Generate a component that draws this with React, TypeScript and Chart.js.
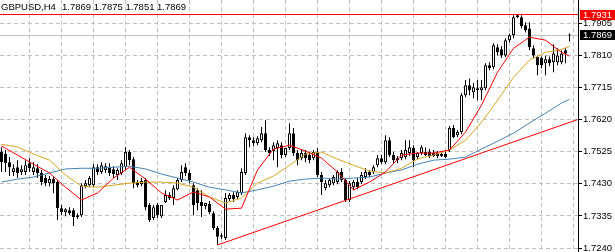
import React, { useEffect, useRef } from "react";
import { Chart, registerables } from "chart.js";

Chart.register(...registerables);

const SYMBOL = "GBPUSD,H4";
const LAST_BAR = [1.7869, 1.7875, 1.7851, 1.7869];

const OPENS = [
  1.7524, 1.7518, 1.7494, 1.7465, 1.7479, 1.7465, 1.7465, 1.7491, 1.7465, 1.7476,
  1.7462, 1.7447, 1.7432, 1.7444, 1.7435, 1.7358, 1.7346, 1.7352, 1.7352, 1.7332,
  1.7337, 1.7423, 1.7426, 1.7426, 1.7479, 1.7465, 1.7471, 1.7479, 1.7473, 1.7456,
  1.7462, 1.7479, 1.7524, 1.7503, 1.7435, 1.7429, 1.7441, 1.7367, 1.7329, 1.7367,
  1.7334, 1.7376, 1.7397, 1.7388, 1.7414, 1.7441, 1.7479, 1.7462, 1.7426, 1.7411,
  1.7376, 1.7364, 1.7370, 1.7343, 1.7299, 1.7273, 1.7270, 1.7385, 1.7397, 1.7391,
  1.7402, 1.7462, 1.7568, 1.7559, 1.7550, 1.7559, 1.7580, 1.7530, 1.7527, 1.7536,
  1.7544, 1.7515, 1.7536, 1.7580, 1.7521, 1.7506, 1.7521, 1.7515, 1.7506, 1.7524,
  1.7456, 1.7417, 1.7426, 1.7432, 1.7435, 1.7465, 1.7441, 1.7382, 1.7420, 1.7435,
  1.7435, 1.7450, 1.7465, 1.7465, 1.7485, 1.7506, 1.7494, 1.7559, 1.7515, 1.7506,
  1.7506, 1.7509, 1.7521, 1.7536, 1.7509, 1.7521, 1.7524, 1.7524, 1.7521, 1.7521,
  1.7518, 1.7518, 1.7530, 1.7595, 1.7574, 1.7583, 1.7692, 1.7722, 1.7701, 1.7713,
  1.7707, 1.7713, 1.7781, 1.7775, 1.7834, 1.7828, 1.7810, 1.7855, 1.7870, 1.7923,
  1.7923, 1.7899, 1.7890, 1.7831, 1.7805, 1.7802, 1.7787, 1.7799, 1.7790, 1.7790,
  1.7790, 1.7825, 1.7869,
];

const HIGHS = [
  1.7538, 1.7530, 1.7509, 1.7488, 1.7500, 1.7485, 1.7500, 1.7506, 1.7494, 1.7488,
  1.7471, 1.7456, 1.7453, 1.7453, 1.7441, 1.7367, 1.7358, 1.7361, 1.7358, 1.7343,
  1.7432, 1.7441, 1.7453, 1.7488, 1.7488, 1.7494, 1.7491, 1.7491, 1.7482, 1.7476,
  1.7500, 1.7538, 1.7530, 1.7509, 1.7441, 1.7447, 1.7447, 1.7373, 1.7367, 1.7373,
  1.7367, 1.7411, 1.7405, 1.7426, 1.7447, 1.7485, 1.7491, 1.7471, 1.7432, 1.7417,
  1.7411, 1.7373, 1.7379, 1.7349, 1.7305, 1.7284, 1.7403, 1.7403, 1.7405, 1.7411,
  1.7476, 1.7580, 1.7574, 1.7568, 1.7571, 1.7598, 1.7618, 1.7538, 1.7553, 1.7559,
  1.7553, 1.7536, 1.7609, 1.7595, 1.7530, 1.7530, 1.7530, 1.7524, 1.7530, 1.7536,
  1.7465, 1.7441, 1.7447, 1.7456, 1.7470, 1.7476, 1.7447, 1.7438, 1.7441, 1.7447,
  1.7465, 1.7476, 1.7470, 1.7485, 1.7515, 1.7515, 1.7574, 1.7568, 1.7524, 1.7512,
  1.7530, 1.7559, 1.7559, 1.7544, 1.7524, 1.7544, 1.7538, 1.7533, 1.7530, 1.7527,
  1.7524, 1.7527, 1.7601, 1.7604, 1.7589, 1.7698, 1.7737, 1.7742, 1.7728, 1.7737,
  1.7737, 1.7787, 1.7790, 1.7846, 1.7843, 1.7837, 1.7861, 1.7875, 1.7929, 1.7931,
  1.7929, 1.7908, 1.7908, 1.7840, 1.7810, 1.7807, 1.7810, 1.7807, 1.7843, 1.7831,
  1.7825, 1.7831, 1.7875,
];

const LOWS = [
  1.7465, 1.7465, 1.7453, 1.7453, 1.7447, 1.7456, 1.7456, 1.7465, 1.7456, 1.7447,
  1.7426, 1.7423, 1.7423, 1.7402, 1.7323, 1.7337, 1.7334, 1.7337, 1.7305, 1.7326,
  1.7332, 1.7417, 1.7420, 1.7420, 1.7456, 1.7459, 1.7462, 1.7453, 1.7447, 1.7441,
  1.7456, 1.7471, 1.7485, 1.7417, 1.7420, 1.7423, 1.7352, 1.7317, 1.7323, 1.7329,
  1.7329, 1.7373, 1.7382, 1.7367, 1.7411, 1.7435, 1.7453, 1.7432, 1.7337, 1.7352,
  1.7332, 1.7355, 1.7340, 1.7293, 1.7249, 1.7267, 1.7264, 1.7379, 1.7376, 1.7385,
  1.7397, 1.7456, 1.7538, 1.7541, 1.7544, 1.7553, 1.7524, 1.7512, 1.7500, 1.7479,
  1.7506, 1.7509, 1.7530, 1.7512, 1.7485, 1.7500, 1.7494, 1.7491, 1.7500, 1.7450,
  1.7397, 1.7411, 1.7420, 1.7426, 1.7429, 1.7435, 1.7376, 1.7376, 1.7411, 1.7414,
  1.7429, 1.7444, 1.7450, 1.7459, 1.7479, 1.7488, 1.7488, 1.7509, 1.7491, 1.7491,
  1.7500, 1.7503, 1.7512, 1.7479, 1.7503, 1.7515, 1.7512, 1.7506, 1.7509, 1.7506,
  1.7509, 1.7506, 1.7524, 1.7565, 1.7568, 1.7577, 1.7686, 1.7692, 1.7683, 1.7677,
  1.7677, 1.7707, 1.7766, 1.7769, 1.7810, 1.7802, 1.7805, 1.7849, 1.7861, 1.7920,
  1.7890, 1.7878, 1.7825, 1.7802, 1.7751, 1.7772, 1.7751, 1.7778, 1.7760, 1.7781,
  1.7784, 1.7787, 1.7851,
];

const CLOSES = [
  1.7494, 1.7491, 1.7479, 1.7476, 1.7462, 1.7473, 1.7485, 1.7476, 1.7479, 1.7462,
  1.7435, 1.7432, 1.7444, 1.7432, 1.7358, 1.7346, 1.7355, 1.7343, 1.7332, 1.7337,
  1.7426, 1.7432, 1.7447, 1.7479, 1.7465, 1.7485, 1.7482, 1.7462, 1.7459, 1.7471,
  1.7491, 1.7524, 1.7500, 1.7432, 1.7426, 1.7438, 1.7361, 1.7323, 1.7361, 1.7337,
  1.7367, 1.7397, 1.7388, 1.7417, 1.7441, 1.7465, 1.7462, 1.7441, 1.7367, 1.7373,
  1.7364, 1.7373, 1.7346, 1.7299, 1.7273, 1.7278, 1.7388, 1.7397, 1.7385, 1.7406,
  1.7465, 1.7568, 1.7559, 1.7550, 1.7565, 1.7580, 1.7530, 1.7521, 1.7544, 1.7550,
  1.7515, 1.7536, 1.7580, 1.7521, 1.7500, 1.7521, 1.7506, 1.7500, 1.7524, 1.7456,
  1.7435, 1.7432, 1.7441, 1.7450, 1.7465, 1.7441, 1.7382, 1.7432, 1.7435, 1.7420,
  1.7456, 1.7465, 1.7456, 1.7479, 1.7506, 1.7494, 1.7559, 1.7515, 1.7500, 1.7500,
  1.7521, 1.7530, 1.7538, 1.7500, 1.7521, 1.7538, 1.7515, 1.7512, 1.7512, 1.7512,
  1.7512, 1.7509, 1.7595, 1.7568, 1.7583, 1.7692, 1.7722, 1.7707, 1.7716, 1.7707,
  1.7716, 1.7781, 1.7772, 1.7840, 1.7819, 1.7810, 1.7855, 1.7870, 1.7923, 1.7929,
  1.7896, 1.7884, 1.7834, 1.7810, 1.7781, 1.7781, 1.7799, 1.7787, 1.7816, 1.7810,
  1.7816, 1.7816, 1.7869,
];

// moving averages read at every 4th bar
const MA_INDEX = [
  0, 4, 8, 12, 16, 20, 24, 28, 32, 36, 40, 44, 48, 52, 56, 60, 64, 68, 72,
  76, 80, 84, 88, 92, 96, 100, 104, 108, 112, 116, 120, 124, 128, 132, 136, 140, 142,
];
const MA_FAST = [
  1.7542, 1.7515, 1.7488, 1.7462, 1.7420, 1.7382, 1.7403, 1.7447, 1.7479, 1.7444,
  1.7403, 1.7382, 1.7406, 1.7391, 1.7355, 1.7358, 1.7471, 1.7533, 1.7544, 1.7527,
  1.7506, 1.7465, 1.7412, 1.7435, 1.7465, 1.7515, 1.7521, 1.7521, 1.7530, 1.7583,
  1.7663, 1.7760, 1.7831, 1.7864, 1.7855, 1.7819, 1.7808,
];
const MA_MID = [
  1.7547, 1.7539, 1.7518, 1.7500, 1.7456, 1.7423, 1.7420, 1.7426, 1.7432, 1.7435,
  1.7435, 1.7432, 1.7420, 1.7391, 1.7373, 1.7388, 1.7432, 1.7453, 1.7485, 1.7518,
  1.7524, 1.7503, 1.7485, 1.7468, 1.7462, 1.7476, 1.7503, 1.7515, 1.7530, 1.7559,
  1.7612, 1.7677, 1.7745, 1.7796, 1.7819, 1.7828, 1.7837,
];
const MA_SLOW = [
  1.7435, 1.7444, 1.7450, 1.7462, 1.7474, 1.7476, 1.7476, 1.7479, 1.7482, 1.7474,
  1.7459, 1.7447, 1.7435, 1.7420, 1.7412, 1.7403, 1.7412, 1.7423, 1.7438, 1.7444,
  1.7447, 1.7444, 1.7447, 1.7450, 1.7462, 1.7471, 1.7488, 1.7500, 1.7503, 1.7509,
  1.7533, 1.7556, 1.7580, 1.7610, 1.7639, 1.7669, 1.7680,
];

const TREND_X = [54, 144];
const TREND_Y = [1.7249, 1.7620];

const HIGH_LEVEL = 1.7931;
const BID_LEVEL = 1.7869;

const Y_TICKS = [1.724, 1.7335, 1.743, 1.7525, 1.762, 1.7715, 1.781, 1.7905];
const X_GRID = [7, 15, 23, 31, 39, 47, 55, 63, 71, 79, 87, 95, 103, 111, 119, 127, 135, 143];

const X_MIN = -0.375;
const X_MAX = 144.125;
const Y_MIN = 1.72282;
const Y_MAX = 1.7974;

const FONT = '"Liberation Sans", Arial, sans-serif';

export default function App() {
  const ref = useRef<HTMLCanvasElement | null>(null);

  useEffect(() => {
    document.body.style.margin = "0";
    const canvas = ref.current;
    if (!canvas) return;

    const idx = OPENS.map((_, i) => i);
    const bodies = idx.map((i) => ({ x: i, y: [OPENS[i], CLOSES[i]] }));
    const wicks = idx.map((i) => ({ x: i, y: [LOWS[i], HIGHS[i]] }));
    const bodyFill = idx.map((i) => (CLOSES[i] >= OPENS[i] ? "#ffffff" : "#000000"));
    const maPts = (arr: number[]) => MA_INDEX.map((x, k) => ({ x, y: arr[k] }));

    const overlay = {
      id: "overlay",
      afterDraw(chart: any) {
        const ctx = chart.ctx as CanvasRenderingContext2D;
        const ys = chart.scales.y;
        ctx.save();
        ctx.font = `9.5px ${FONT}`;
        ctx.textAlign = "left";
        ctx.textBaseline = "alphabetic";
        ctx.fillStyle = "#000000";
        ctx.fillText(SYMBOL, 1, 9.5);
        ctx.fillText(LAST_BAR.map((v) => v.toFixed(4)).join(" "), 62, 9.5);
        const boxes = [
          { v: HIGH_LEVEL, c: "#ff0000" },
          { v: BID_LEVEL, c: "#000000" },
        ];
        ctx.textBaseline = "middle";
        for (const b of boxes) {
          const py = Math.round(ys.getPixelForValue(b.v));
          ctx.fillStyle = b.c;
          ctx.fillRect(580, py - 5, 35, 10);
          ctx.fillStyle = "#ffffff";
          ctx.fillText(b.v.toFixed(4), 583, py);
        }
        ctx.restore();
      },
    };

    const chart = new Chart(canvas, {
      type: "bar",
      data: {
        datasets: [
          {
            type: "bar",
            data: wicks as any,
            backgroundColor: "#000000",
            borderWidth: 0,
            barThickness: 1,
            grouped: false,
            inflateAmount: 0,
            order: 10,
          } as any,
          {
            type: "bar",
            data: bodies as any,
            backgroundColor: bodyFill,
            borderColor: "#000000",
            borderWidth: 1,
            borderSkipped: false,
            barThickness: 3,
            grouped: false,
            inflateAmount: 0,
            minBarLength: 1,
            order: 9,
          } as any,
          {
            type: "line",
            data: [
              { x: X_MIN, y: BID_LEVEL },
              { x: X_MAX, y: BID_LEVEL },
            ],
            borderColor: "#c0c0c0",
            borderWidth: 1,
            pointRadius: 0,
            order: 11,
          } as any,
          {
            type: "line",
            data: maPts(MA_SLOW),
            borderColor: "#4682b4",
            borderWidth: 1,
            pointRadius: 0,
            tension: 0,
            order: 4,
          } as any,
          {
            type: "line",
            data: maPts(MA_MID),
            borderColor: "#daa520",
            borderWidth: 1,
            pointRadius: 0,
            tension: 0,
            order: 3,
          } as any,
          {
            type: "line",
            data: maPts(MA_FAST),
            borderColor: "#ff0000",
            borderWidth: 1,
            pointRadius: 0,
            tension: 0,
            order: 2,
          } as any,
          {
            type: "line",
            data: TREND_X.map((x, k) => ({ x, y: TREND_Y[k] })),
            borderColor: "#ff0000",
            borderWidth: 1,
            pointRadius: 0,
            order: 1,
          } as any,
          {
            type: "line",
            data: [
              { x: X_MIN, y: HIGH_LEVEL },
              { x: X_MAX, y: HIGH_LEVEL },
            ],
            borderColor: "#ff0000",
            borderWidth: 1,
            pointRadius: 0,
            order: 0,
          } as any,
        ],
      },
      options: {
        responsive: false,
        maintainAspectRatio: false,
        animation: false,
        events: [],
        layout: { padding: 0 },
        plugins: {
          legend: { display: false },
          tooltip: { enabled: false },
          title: { display: false },
        },
        scales: {
          x: {
            type: "linear",
            position: "bottom",
            min: X_MIN,
            max: X_MAX,
            offset: false,
            grid: {
              color: "#c0c0c0",
              lineWidth: 1,
              drawTicks: false,
              offset: false,
            },
            border: { display: false, dash: [4, 3] },
            ticks: { display: false },
            afterBuildTicks: (s: any) => {
              s.ticks = X_GRID.map((v) => ({ value: v }));
            },
            afterFit: (s: any) => {
              s.height = 0;
              s.paddingLeft = 0;
              s.paddingRight = 0;
            },
          },
          y: {
            type: "linear",
            position: "right",
            min: Y_MIN,
            max: Y_MAX,
            beginAtZero: false,
            grid: {
              color: "#c0c0c0",
              lineWidth: 1,
              drawTicks: true,
              tickLength: 4,
              tickColor: "#000000",
              tickWidth: 1,
              tickBorderDash: [],
            },
            border: { display: true, color: "#000000", width: 1, dash: [4, 3] },
            ticks: {
              color: "#000000",
              font: { family: FONT, size: 9.5 },
              padding: 1,
              autoSkip: false,
              callback: (v: any) => Number(v).toFixed(4),
            },
            afterBuildTicks: (s: any) => {
              s.ticks = Y_TICKS.map((v) => ({ value: v }));
            },
            afterFit: (s: any) => {
              s.width = 37;
              s.paddingTop = 0;
              s.paddingBottom = 0;
            },
          },
        },
      } as any,
      plugins: [overlay],
    });

    return () => chart.destroy();
  }, []);

  return (
    <canvas
      ref={ref}
      width={615}
      height={252}
      style={{ display: "block", width: 615, height: 252 }}
    />
  );
}
